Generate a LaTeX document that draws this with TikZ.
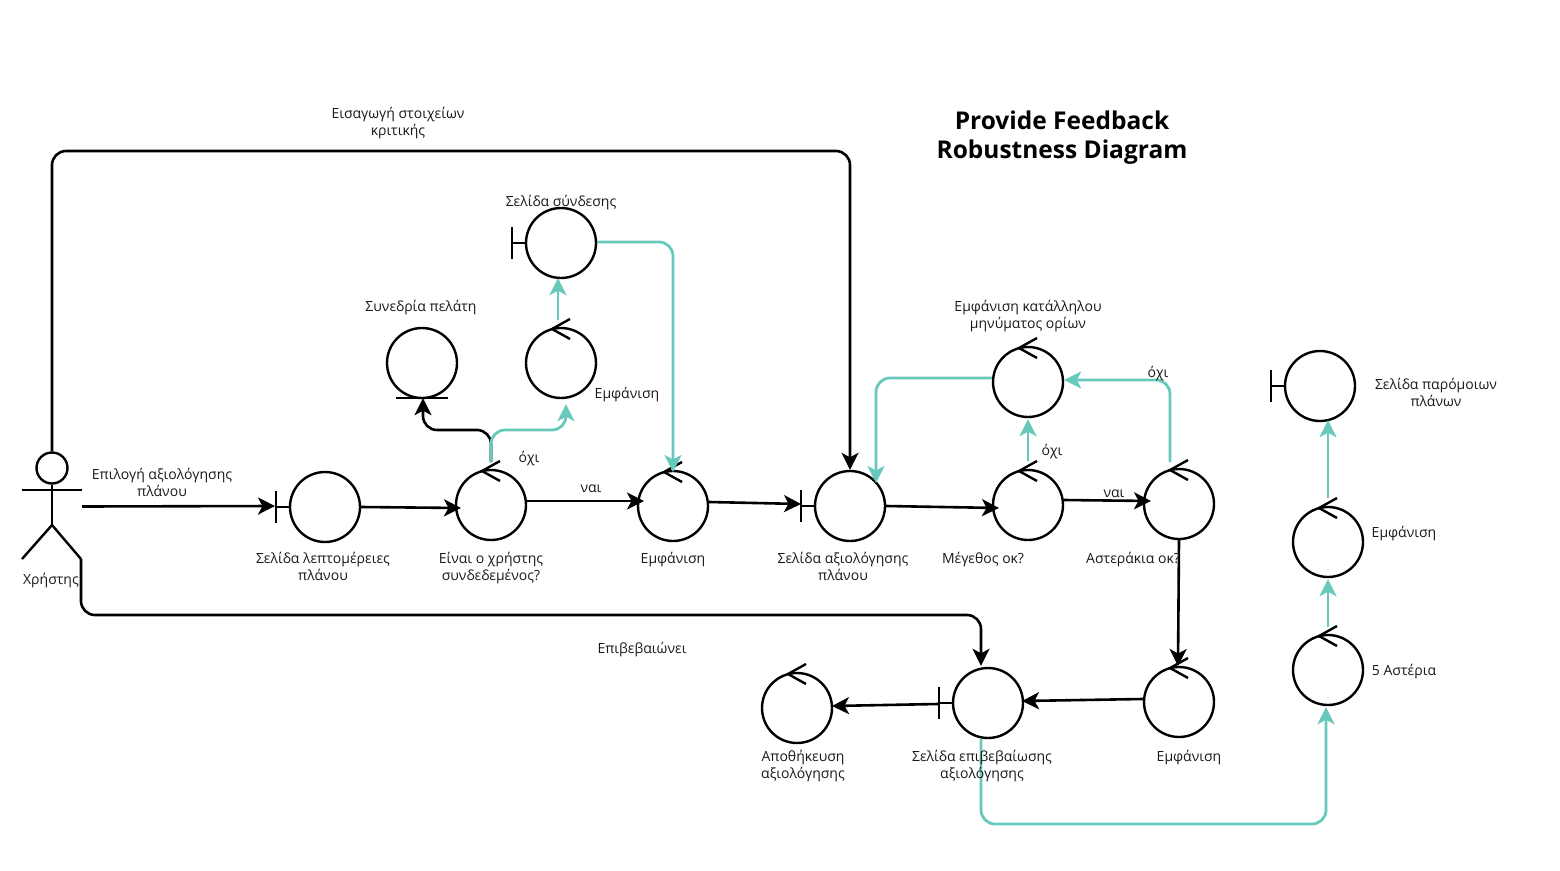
\documentclass[tikz,border=0pt]{standalone}
\usepackage{fontspec}
\setmainfont{Open Sans}
\usetikzlibrary{arrows.meta}
\definecolor{tealc}{HTML}{67C8BC}
\tikzset{
  x=1pt,y=-1pt,
  obj/.style={circle,draw=black,line width=2.4pt,minimum size=70pt,inner sep=0pt,fill=white},
  mark line/.style={draw=black,line width=2.4pt},
  lbl/.style={align=center,font=\fontsize{14}{17}\selectfont,inner sep=0pt,text=black!90},
  blk/.style={draw=black,line width=2.6pt,rounded corners=14pt,-{Stealth[length=17pt,width=17pt,inset=4.5pt]}},
  tl/.style={draw=tealc,line width=2.8pt,rounded corners=14pt,-{Stealth[length=17pt,width=17pt,inset=4.5pt]}},
}
\newcommand{\ctrlobj}[3]{%
  \node[obj] (#1) at (#2,#3) {};
  \draw[mark line] ([shift={(9,-44)}]#1.center) -- ([shift={(-9,-34)}]#1.center) -- ([shift={(9,-24)}]#1.center);
}
\newcommand{\bndobj}[3]{%
  \node[obj] (#1) at (#2,#3) {};
  \draw[mark line] ([shift={(-49,-16)}]#1.center) -- ([shift={(-49,16)}]#1.center);
  \draw[mark line] ([shift={(-49,0)}]#1.center) -- (#1.west);
}
\begin{document}
\begin{tikzpicture}
\useasboundingbox (0,0) rectangle (1560,870);
\bndobj{bA}{325}{507}
\ctrlobj{cLogged}{491}{505}
\ctrlobj{cShowA}{561}{363}
\bndobj{bLogin}{561}{243}
\ctrlobj{cShowB}{673}{506}
\bndobj{bRate}{850}{506}
\ctrlobj{cSize}{1028}{505}
\ctrlobj{cStars}{1179}{504}
\ctrlobj{cMsg}{1028}{382}
\ctrlobj{cShowC}{1179}{702}
\bndobj{bConfirm}{988}{703}
\ctrlobj{cSave}{797}{708}
\ctrlobj{cFive}{1328}{670}
\ctrlobj{cShowD}{1328}{542}
\bndobj{bSimilar}{1320}{386}
% entity
\node[obj] (eSession) at (422,363) {};
\draw[mark line] ([shift={(-26,35)}]eSession.center) -- ([shift={(26,35)}]eSession.center);
% actor
\node[circle,draw=black,line width=2.4pt,minimum width=31pt,minimum height=27pt,inner sep=0pt] (aHead) at (52,468) {};
\coordinate (aHip) at (52,525);
\coordinate (aArmL) at (22,490);
\coordinate (aArmR) at (82,490);
\coordinate (aLegL) at (22,559);
\coordinate (aLegR) at (81,559);
\draw[mark line] (aHead.south) -- (aHip);
\draw[mark line] (aArmL) -- (aArmR);
\draw[mark line] (aLegL) -- (aHip) -- (aLegR);
\coordinate (aHand) at (82,506.5);
% black connectors
\draw[blk] (aHand) -- ([shift={(-50,-1)}]bA.center);
\draw[blk] (bA.east) -- ([shift={(-30,3)}]cLogged.center);
\draw[blk] ([shift={(0,-4)}]cLogged.east) -- ([shift={(-29,-5)}]cShowB.center);
\draw[blk] ([shift={(0,-4)}]cShowB.east) -- ([shift={(-49,-2)}]bRate.center);
\draw[blk] (bRate.east) -- ([shift={(-29,3)}]cSize.center);
\draw[blk] ([shift={(0,-5)}]cSize.east) -- ([shift={(-28,-3)}]cStars.center);
\draw[blk] (cStars.south) -- ([shift={(-1,-36)}]cShowC.center);
\draw[blk] ([shift={(0,-3)}]cShowC.west) -- ([shift={(34,-2)}]bConfirm.center);
\draw[blk] ([shift={(-14,1)}]bConfirm.west) -- ([shift={(35,-2)}]cSave.center);
\draw[blk] (aHead.north) |- (850,151) -- (bRate.north);
\draw[blk] (aLegR) |- (981,615) -- ([shift={(-7,-1)}]bConfirm.north);
\draw[blk] ([shift={(0,-43)}]cLogged.center) |- (423,430) -- ([shift={(1,-1)}]eSession.south);
% teal connectors
\draw[tl] ([shift={(0,-43)}]cLogged.center) |- (566,430) -- ([shift={(5,5)}]cShowA.south);
\draw[tl] ([shift={(-3,-43)}]cShowA.center) -- ([shift={(-3,-1)}]bLogin.south);
\draw[tl] ([shift={(0,-1)}]bLogin.east) -| ([shift={(0,-34)}]cShowB.center);
\draw[tl] ([shift={(0,-44)}]cSize.center) -- ([shift={(0,1)}]cMsg.south);
\draw[tl] ([shift={(-9,-42)}]cStars.center) |- ([shift={(0,-2)}]cMsg.east);
\draw[tl] ([shift={(0,-4)}]cMsg.west) -| ([shift={(26,-23)}]bRate.center);
\draw[tl] ([shift={(-7,0)}]bConfirm.south) |- (1326,824) -- ([shift={(-2,1)}]cFive.south);
\draw[tl] ([shift={(0,-43)}]cFive.center) -- ([shift={(0,1)}]cShowD.south);
\draw[tl] ([shift={(0,-44)}]cShowD.center) -- ([shift={(8,-2)}]bSimilar.south);
% labels
\node[align=center,font=\fontsize{24.5}{29}\selectfont\bfseries,inner sep=0pt] (title) at (1062,138) {Provide Feedback\\Robustness Diagram};
\node[lbl] (tActor) at (51,581) {Χρήστης};
\node[lbl] (tChoose) at (162,482) {Επιλογή αξιολόγησης\\πλάνου};
\node[lbl] (tInput) at (398,123) {Εισαγωγή στοιχείων\\κριτικής};
\node[lbl] (tDetails) at (323,566) {Σελίδα λεπτομέρειες\\πλάνου};
\node[lbl] (tLogged) at (491,568) {Είναι ο χρήστης\\συνδεδεμένος?};
\node[lbl] (tShowB) at (673,560) {Εμφάνιση};
\node[lbl] (tRate) at (843,566) {Σελίδα αξιολόγησης\\πλάνου};
\node[lbl] (tSize) at (983,560) {Μέγεθος οκ?};
\node[lbl] (tStars) at (1133,560) {Αστεράκια οκ?};
\node[lbl] (tLogin) at (561,203) {Σελίδα σύνδεσης};
\node[lbl] (tSession) at (421,308) {Συνεδρία πελάτη};
\node[lbl] (tShowA) at (627,395) {Εμφάνιση};
\node[lbl] (tNo1) at (529,459) {όχι};
\node[lbl] (tYes1) at (591,489) {ναι};
\node[lbl] (tMsg) at (1028,316) {Εμφάνιση κατάλληλου\\μηνύματος ορίων};
\node[lbl] (tNo2) at (1158,374) {όχι};
\node[lbl] (tNo3) at (1052,452) {όχι};
\node[lbl] (tYes2) at (1114,494) {ναι};
\node[lbl] (tAffirm) at (642,650) {Επιβεβαιώνει};
\node[lbl] (tSave) at (803,766) {Αποθήκευση\\αξιολόγησης};
\node[lbl] (tConfirmPage) at (982,766) {Σελίδα επιβεβαίωσης\\αξιολόγησης};
\node[lbl] (tShowC) at (1189,758) {Εμφάνιση};
\node[lbl] (tFive) at (1404,672) {5 Αστέρια};
\node[lbl] (tShowD) at (1404,534) {Εμφάνιση};
\node[lbl] (tSimilar) at (1436,392) {Σελίδα παρόμοιων\\πλάνων};
\end{tikzpicture}
\end{document}
